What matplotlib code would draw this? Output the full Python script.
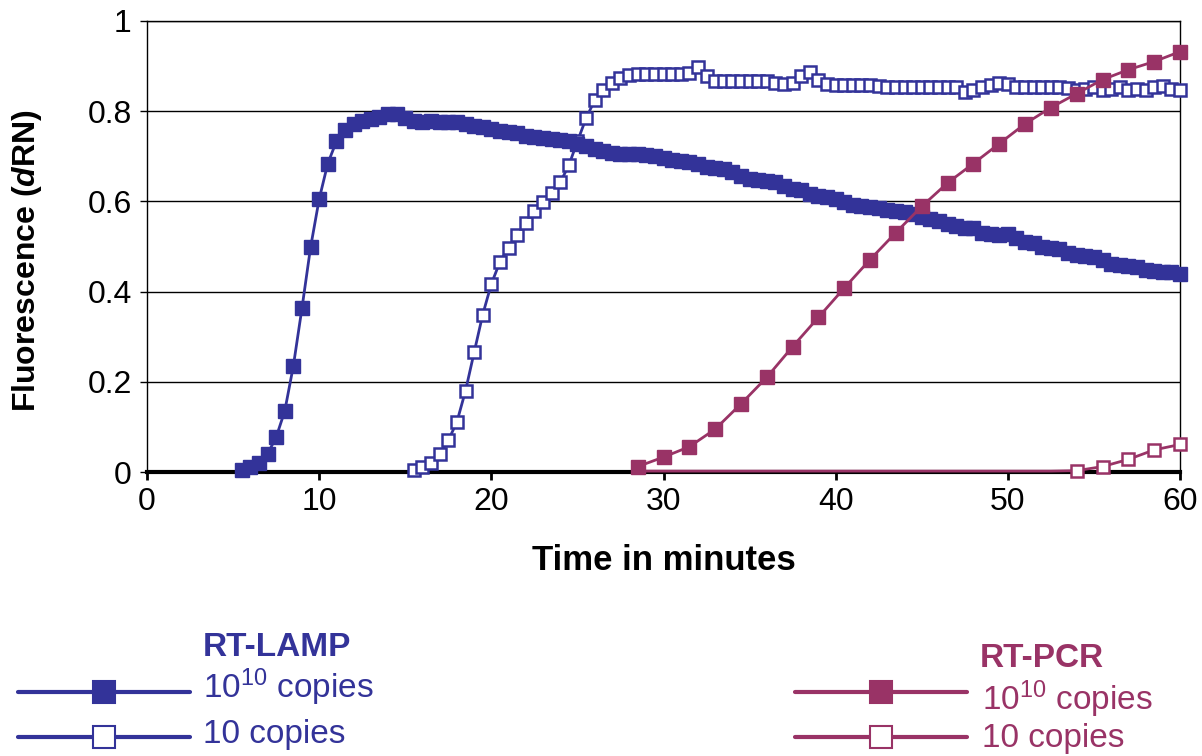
import numpy as np
import matplotlib
matplotlib.use("Agg")
import matplotlib.pyplot as plt
from matplotlib.lines import Line2D

plt.rcParams['font.family'] = ['Liberation Sans', 'DejaVu Sans']
plt.rcParams['mathtext.fontset'] = 'custom'
plt.rcParams['mathtext.rm'] = 'Liberation Sans'
plt.rcParams['mathtext.it'] = 'Liberation Sans:italic:bold'
plt.rcParams['mathtext.bf'] = 'Liberation Sans:bold'
plt.rcParams['mathtext.default'] = 'regular'

BLUE = '#333399'
PINK = '#993366'

# RT-LAMP, 10^10 copies (readings every 30 s)
lamp_hi_t = np.arange(5.5, 60.01, 0.5)
lamp_hi = [0.005, 0.01, 0.02, 0.04, 0.077, 0.135, 0.235, 0.363, 0.498, 0.605,
           0.684, 0.733, 0.758, 0.772, 0.778, 0.783, 0.788, 0.793, 0.793, 0.785,
           0.778, 0.777, 0.778, 0.777, 0.776, 0.775, 0.772, 0.768, 0.764, 0.76,
           0.755, 0.753, 0.751, 0.745, 0.742, 0.741, 0.739, 0.736, 0.734, 0.728,
           0.722, 0.716, 0.712, 0.707, 0.705, 0.704, 0.704, 0.702, 0.701, 0.697,
           0.692, 0.69, 0.688, 0.684, 0.676, 0.673, 0.671, 0.665, 0.656, 0.65,
           0.648, 0.646, 0.642, 0.634, 0.628, 0.625, 0.617, 0.612, 0.609, 0.605,
           0.598, 0.593, 0.59, 0.588, 0.585, 0.582, 0.579, 0.577, 0.572, 0.565,
           0.56, 0.556, 0.55, 0.545, 0.542, 0.54, 0.531, 0.528, 0.525, 0.527,
           0.518, 0.51, 0.507, 0.5, 0.497, 0.494, 0.485, 0.481, 0.479, 0.477,
           0.47, 0.462, 0.459, 0.457, 0.455, 0.448, 0.445, 0.444, 0.443, 0.44]

# RT-LAMP, 10 copies
lamp_lo_t = np.arange(15.5, 60.01, 0.5)
lamp_lo = [0.005, 0.01, 0.02, 0.04, 0.07, 0.111, 0.18, 0.265, 0.349, 0.417,
           0.466, 0.497, 0.525, 0.551, 0.578, 0.598, 0.618, 0.642, 0.68, 0.733,
           0.784, 0.824, 0.848, 0.862, 0.873, 0.881, 0.882, 0.882, 0.882, 0.882,
           0.882, 0.882, 0.885, 0.897, 0.879, 0.868, 0.867, 0.867, 0.867, 0.867,
           0.867, 0.866, 0.862, 0.861, 0.862, 0.877, 0.886, 0.87, 0.86, 0.857,
           0.857, 0.857, 0.857, 0.857, 0.856, 0.854, 0.853, 0.853, 0.853, 0.853,
           0.853, 0.853, 0.853, 0.853, 0.843, 0.846, 0.853, 0.858, 0.862, 0.86,
           0.854, 0.853, 0.853, 0.853, 0.853, 0.853, 0.852, 0.846, 0.849, 0.853,
           0.847, 0.849, 0.853, 0.848, 0.85, 0.847, 0.853, 0.855, 0.85, 0.848]

# RT-PCR (readings every 90 s)
pcr_t = np.arange(28.5, 60.01, 1.5)
pcr_hi = [0.012, 0.033, 0.056, 0.095, 0.151, 0.21, 0.278, 0.343, 0.408, 0.471,
          0.531, 0.589, 0.641, 0.684, 0.728, 0.772, 0.808, 0.839, 0.87, 0.892,
          0.91, 0.932]
pcr_lo = [0.002, 0.002, 0.002, 0.002, 0.002, 0.002, 0.002, 0.002, 0.002, 0.002,
          0.002, 0.002, 0.002, 0.002, 0.002, 0.002, 0.002, 0.003, 0.012, 0.028,
          0.049, 0.061]

fig = plt.figure(figsize=(12.02, 7.56), dpi=100)
ax = fig.add_axes([147 / 1202, 1 - 472 / 756, 1033 / 1202, 451 / 756])

ax.plot(lamp_hi_t, lamp_hi, color=BLUE, lw=2, marker='s', ms=10,
        mfc=BLUE, mec=BLUE, clip_on=False, zorder=4)
ax.plot(lamp_lo_t, lamp_lo, color=BLUE, lw=2, marker='s', ms=8.5,
        mfc='white', mec=BLUE, mew=1.8, clip_on=False, zorder=3)
ax.plot(pcr_t, pcr_hi, color=PINK, lw=2, marker='s', ms=10,
        mfc=PINK, mec=PINK, clip_on=False, zorder=5)
ax.plot(pcr_t, pcr_lo, color=PINK, lw=2, marker='s', ms=9,
        mfc='white', mec=PINK, mew=1.8, markevery=range(17, len(pcr_t)),
        clip_on=False, zorder=5)

ax.set_xlim(0, 60)
ax.set_ylim(0, 1)
ax.set_xticks(range(0, 61, 10))
ax.set_yticks([0, 0.2, 0.4, 0.6, 0.8, 1])
ax.set_yticklabels(['0', '0.2', '0.4', '0.6', '0.8', '1'])
ax.grid(axis='y', color='black', lw=1)
ax.set_axisbelow(True)

for s in ['left', 'right', 'top']:
    ax.spines[s].set_linewidth(1)
ax.spines['bottom'].set_linewidth(3)
ax.spines['bottom'].set_zorder(2)

ax.tick_params(axis='x', direction='out', length=6, width=2, pad=5, labelsize=23)
ax.tick_params(axis='y', direction='out', length=5, width=1, pad=6, labelsize=23)

ax.set_xlabel('Time in minutes', fontsize=25, fontweight='bold')
ax.xaxis.set_label_coords(0.5, -0.16)
ax.set_ylabel(r'Fluorescence ($\mathit{d}$RN)', fontsize=23, fontweight='bold')
ax.yaxis.set_label_coords(-0.1, 0.468)

# legend drawn by hand, two groups under the chart
def px(x, y):
    return x / 1202, 1 - y / 756

def leg_row(x0, x1, y, color, filled):
    fx0, fy = px(x0, y)
    fx1, _ = px(x1, y)
    fig.add_artist(Line2D([fx0, fx1], [fy, fy], transform=fig.transFigure,
                          color=color, lw=3, solid_capstyle='round'))
    fig.add_artist(Line2D([(fx0 + fx1) / 2], [fy], transform=fig.transFigure,
                          marker='s', ms=16, mec=color, mew=1.5,
                          mfc=color if filled else 'white', lw=0))

leg_row(18, 190, 692, BLUE, True)
leg_row(18, 190, 737, BLUE, False)
fig.text(*px(203, 656), 'RT-LAMP', color=BLUE, fontsize=24, fontweight='bold')
fig.text(*px(203, 698), '10$^{10}$ copies', color=BLUE, fontsize=24)
fig.text(*px(203, 743), '10 copies', color=BLUE, fontsize=24)

leg_row(795, 967, 692, PINK, True)
leg_row(795, 967, 737, PINK, False)
fig.text(*px(980, 667), 'RT-PCR', color=PINK, fontsize=24, fontweight='bold')
fig.text(*px(982, 710), '10$^{10}$ copies', color=PINK, fontsize=24)
fig.text(*px(982, 747), '10 copies', color=PINK, fontsize=24)

fig.savefig('out.png', dpi=100)
